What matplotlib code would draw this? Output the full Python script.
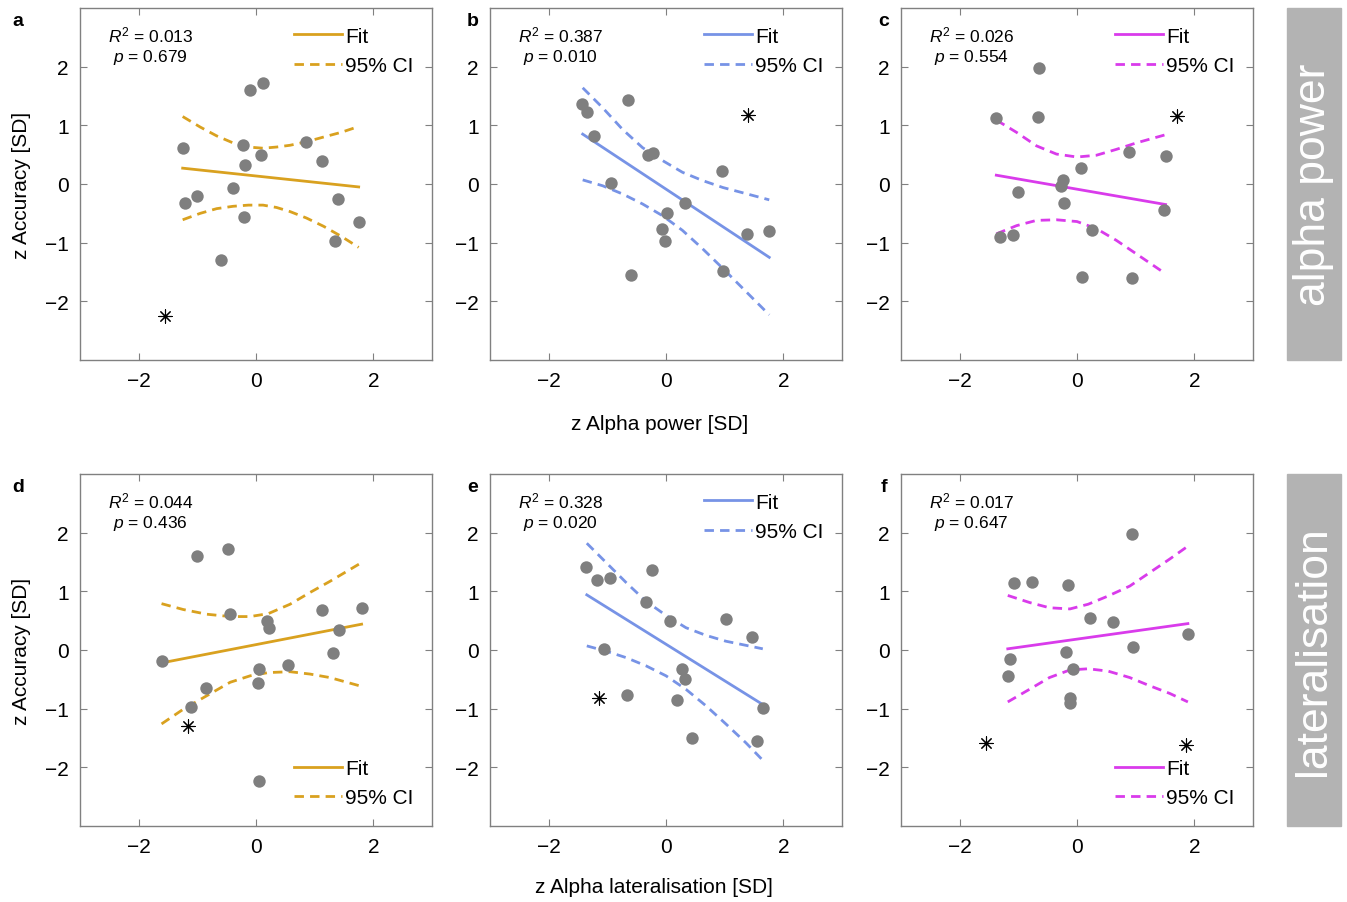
import numpy as np
import matplotlib
matplotlib.use('Agg')
import matplotlib.pyplot as plt
from matplotlib.patches import Rectangle

plt.rcParams['font.family'] = ['Liberation Sans', 'DejaVu Sans']
plt.rcParams['mathtext.fontset'] = 'custom'
plt.rcParams['mathtext.rm'] = 'Liberation Sans'
plt.rcParams['mathtext.it'] = 'Liberation Sans:italic'

# ---- data (z-scores) ----
# a: alpha power, condition 1
xa = [-1.25, -1.21, -1.01, -0.60, -0.39, -0.23, -0.21, -0.18, -0.10, 0.09, 0.12, 0.86, 1.13, 1.34, 1.40, 1.75]
ya = [0.62, -0.32, -0.20, -1.29, -0.06, 0.67, -0.57, 0.33, 1.60, 0.49, 1.73, 0.71, 0.39, -0.97, -0.25, -0.65]
star_a = ([-1.55], [-2.25])
fit_a = ([-1.25, 1.75], [0.27, -0.05])
ci_xa = [-1.25, -0.95, -0.67, -0.39, -0.13, 0.12, 0.35, 0.58, 0.86, 1.15, 1.45, 1.75]
ci_hi_a = [1.15, 0.97, 0.82, 0.70, 0.63, 0.61, 0.63, 0.66, 0.72, 0.80, 0.88, 0.98]
ci_lo_a = [-0.61, -0.50, -0.42, -0.38, -0.36, -0.36, -0.40, -0.47, -0.58, -0.72, -0.89, -1.08]

# b
xb = [-1.43, -1.34, -1.22, -0.94, -0.65, -0.59, -0.31, -0.22, -0.06, -0.02, 0.01, 0.32, 0.95, 0.98, 1.38, 1.76]
yb = [1.37, 1.22, 0.82, 0.02, 1.43, -1.55, 0.49, 0.53, -0.76, -0.98, -0.49, -0.32, 0.22, -1.49, -0.86, -0.80]
star_b = ([1.40], [1.18])
fit_b = ([-1.42, 1.76], [0.85, -1.25])
ci_xb = [-1.42, -1.08, -0.74, -0.40, -0.06, 0.28, 0.62, 0.97, 1.31, 1.76]
ci_hi_b = [1.64, 1.30, 0.93, 0.62, 0.40, 0.20, 0.06, -0.06, -0.15, -0.27]
ci_lo_b = [0.07, -0.03, -0.17, -0.34, -0.54, -0.79, -1.10, -1.44, -1.78, -2.23]

# c
xc = [-1.375, -1.32, -1.09, -1.01, -0.67, -0.64, -0.28, -0.24, -0.22, 0.07, 0.09, 0.25, 0.89, 0.93, 1.49, 1.51]
yc = [1.12, -0.91, -0.87, -0.14, 1.15, 1.97, -0.03, 0.06, -0.32, 0.27, -1.59, -0.79, 0.55, -1.60, -0.44, 0.48]
star_c = ([1.71], [1.16])
fit_c = ([-1.375, 1.51], [0.15, -0.35])
ci_xc = [-1.375, -1.03, -0.69, -0.35, 0.0, 0.33, 0.67, 1.01, 1.51]
ci_hi_c = [1.09, 0.88, 0.65, 0.51, 0.46, 0.49, 0.59, 0.70, 0.84]
ci_lo_c = [-0.85, -0.71, -0.62, -0.61, -0.64, -0.76, -0.96, -1.19, -1.53]

# d: lateralisation
xd = [-1.61, -1.10, -1.01, -0.86, -0.48, -0.45, 0.03, 0.05, 0.05, 0.18, 0.22, 0.54, 1.12, 1.32, 1.41, 1.80]
yd = [-0.19, -0.98, 1.61, -0.65, 1.72, 0.62, -0.56, -0.32, -2.24, 0.49, 0.38, -0.25, 0.68, -0.05, 0.34, 0.71]
star_d = ([-1.16], [-1.30])
fit_d = ([-1.61, 1.80], [-0.22, 0.44])
ci_xd = [-1.61, -1.24, -0.84, -0.44, -0.10, 0.21, 0.58, 0.92, 1.26, 1.80]
ci_hi_d = [0.79, 0.69, 0.61, 0.57, 0.57, 0.62, 0.78, 0.98, 1.17, 1.49]
ci_lo_d = [-1.26, -1.01, -0.78, -0.55, -0.44, -0.385, -0.37, -0.41, -0.47, -0.62]

# e
xe = [-1.36, -1.18, -0.96, -1.05, -0.66, -0.34, -0.24, 0.06, 0.19, 0.28, 0.32, 0.44, 1.03, 1.47, 1.55, 1.65]
ye = [1.42, 1.19, 1.23, 0.02, -0.77, 0.82, 1.37, 0.50, -0.86, -0.32, -0.50, -1.50, 0.53, 0.22, -1.55, -0.99]
star_e = ([-1.15], [-0.81])
fit_e = ([-1.35, 1.65], [0.94, -0.93])
ci_xe = [-1.35, -1.02, -0.68, -0.34, 0.0, 0.34, 0.68, 1.02, 1.36, 1.65]
ci_hi_e = [1.82, 1.49, 1.15, 0.83, 0.59, 0.38, 0.25, 0.15, 0.08, 0.02]
ci_lo_e = [0.07, -0.02, -0.13, -0.27, -0.44, -0.67, -0.95, -1.26, -1.58, -1.88]

# f
xf = [-1.18, -1.14, -1.07, -0.76, -0.19, -0.15, -0.125, -0.12, -0.06, 0.23, 0.61, 0.93, 0.96, 1.89]
yf = [-0.44, -0.15, 1.15, 1.16, -0.04, 1.10, -0.81, -0.91, -0.33, 0.54, 0.48, 1.97, 0.05, 0.27]
star_f = ([-1.55, 1.85], [-1.59, -1.62])
fit_f = ([-1.18, 1.89], [0.02, 0.45])
ci_xf = [-1.18, -0.81, -0.47, -0.12, 0.19, 0.53, 0.90, 1.24, 1.58, 1.89]
ci_hi_f = [0.93, 0.81, 0.72, 0.70, 0.78, 0.92, 1.09, 1.32, 1.55, 1.77]
ci_lo_f = [-0.885, -0.67, -0.47, -0.34, -0.32, -0.36, -0.47, -0.61, -0.74, -0.885]

stats = [('0.013', '0.679'), ('0.387', '0.010'), ('0.026', '0.554'),
         ('0.044', '0.436'), ('0.328', '0.020'), ('0.017', '0.647')]
letters = ['a', 'b', 'c', 'd', 'e', 'f']
row_labels = ['alpha power', 'lateralisation']

gold = '#D9A11F'
blue = '#7793E6'
magenta = '#D93BEB'
colors = [gold, blue, magenta, gold, blue, magenta]

panels = [
    (xa, ya, star_a, fit_a, ci_xa, ci_hi_a, ci_lo_a),
    (xb, yb, star_b, fit_b, ci_xb, ci_hi_b, ci_lo_b),
    (xc, yc, star_c, fit_c, ci_xc, ci_hi_c, ci_lo_c),
    (xd, yd, star_d, fit_d, ci_xd, ci_hi_d, ci_lo_d),
    (xe, ye, star_e, fit_e, ci_xe, ci_hi_e, ci_lo_e),
    (xf, yf, star_f, fit_f, ci_xf, ci_hi_f, ci_lo_f),
]

fig = plt.figure(figsize=(13.47, 9.03), dpi=100)

lefts = [80 / 1347, 490 / 1347, 901 / 1347]
bottoms = [1 - 361 / 903, 1 - 827 / 903]
w = 352 / 1347
h = 352 / 903

for i, (x, y, star, fit, cx, chi, clo) in enumerate(panels):
    r, c = divmod(i, 3)
    ax = fig.add_axes([lefts[c], bottoms[r], w, h])
    col = colors[i]
    ax.scatter(x, y, s=80, color='#7f7f7f', zorder=3, linewidths=0)
    ax.scatter(star[0], star[1], marker=(8, 2, 0), s=90, color='black', linewidths=0.8, zorder=3)
    ax.plot(fit[0], fit[1], color=col, lw=2, label='Fit')
    ax.plot(cx, chi, color=col, lw=2, dashes=(3.4, 2.2), label='95% CI')
    ax.plot(cx, clo, color=col, lw=2, dashes=(3.4, 2.2))

    ax.set_xlim(-3, 3)
    ax.set_ylim(-3, 3)
    ax.set_xticks([-2, 0, 2])
    ax.set_yticks([-2, -1, 0, 1, 2])
    ax.tick_params(direction='in', top=True, right=True, length=5, width=0.8,
                   color='#808080', labelsize=15, pad=8)
    for sp in ax.spines.values():
        sp.set_color('#808080')
        sp.set_linewidth(1.0)

    ax.text(0.2, 0.925, r'$R^2$ = ' + stats[i][0], transform=ax.transAxes,
            ha='center', va='center', fontsize=12.5)
    ax.text(0.2, 0.863, r'$p$ = ' + stats[i][1], transform=ax.transAxes,
            ha='center', va='center', fontsize=12.5)

    loc = 'lower right' if i in (3, 5) else 'upper right'
    ax.legend(loc=loc, frameon=False, fontsize=15, handlelength=2.3,
              handletextpad=0.15, labelspacing=0.5, borderaxespad=0.5)

    off = 62 if c == 0 else 17
    fig.text(lefts[c] - off / 1347, bottoms[r] + h - 13 / 903, letters[i],
             fontsize=14, fontweight='bold', ha='center', va='center')

    if c == 0:
        ax.set_ylabel('z Accuracy [SD]', fontsize=15, labelpad=10)

fig.text(660 / 1347, 1 - 424 / 903, 'z Alpha power [SD]', fontsize=15, ha='center', va='center')
fig.text(654 / 1347, 1 - 888 / 903, 'z Alpha lateralisation [SD]', fontsize=15, ha='center', va='center')

# grey row labels on the right
for r, lab in enumerate(row_labels):
    fig.patches.append(Rectangle((1287 / 1347, bottoms[r]), 54 / 1347, h,
                                 transform=fig.transFigure, color='#b3b3b3', zorder=0))
    fig.text(1314 / 1347, bottoms[r] + h / 2, lab, rotation=90, color='white',
             fontsize=32, ha='center', va='center')

fig.savefig('out.png', dpi=100)
